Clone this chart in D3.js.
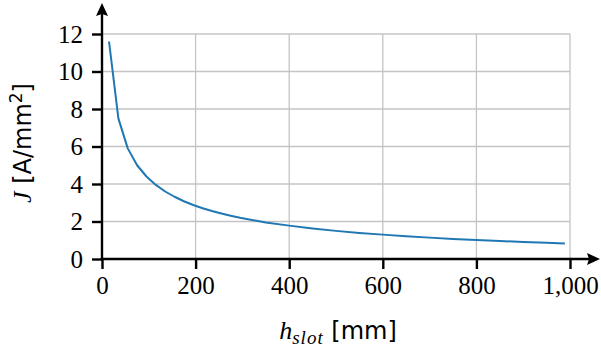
<!DOCTYPE html>
<html>
<head>
<meta charset="utf-8">
<script src="https://cdn.jsdelivr.net/npm/d3@7"></script>
<style>
  html, body { margin: 0; padding: 0; background: #fff; }
  svg { display: block; }
  .serif { font-family: "Liberation Serif", "Times New Roman", serif; }
  .sans { font-family: "DejaVu Sans", sans-serif; }
  .tick text { font-family: "Liberation Serif", "Times New Roman", serif; font-size: 25px; fill: #000; }
</style>
</head>
<body>
<svg id="chart" width="601" height="354"></svg>
<script>
// Slot height (mm) and resulting current density (A/mm²)
const hSlot = [15, 35, 55, 75, 95, 115, 135, 155, 175, 195, 215, 235, 255, 275, 295, 350, 400, 450, 500, 550, 600, 650, 700, 750, 800, 850, 900, 950, 989];
const currentDensity = [11.6, 7.5, 5.9, 5.0, 4.4, 3.95, 3.6, 3.32, 3.08, 2.88, 2.71, 2.56, 2.43, 2.31, 2.2, 1.95, 1.78, 1.63, 1.5, 1.39, 1.3, 1.21, 1.14, 1.07, 1.01, 0.96, 0.91, 0.87, 0.83];
const xTicks = [0, 200, 400, 600, 800, 1000];
const yTicks = [0, 2, 4, 6, 8, 10, 12];

const svg = d3.select("#chart");
const x = d3.scaleLinear().domain([0, 1000]).range([102, 570]);
const y = d3.scaleLinear().domain([0, 12]).range([259, 34]);

const gridColor = "#c4c4c4";

// grid
svg.append("g").selectAll("line").data(xTicks.filter(d => d > 0)).join("line")
  .attr("x1", d => x(d)).attr("x2", d => x(d))
  .attr("y1", y(12)).attr("y2", y(0))
  .attr("stroke", gridColor).attr("stroke-width", 1.3);
svg.append("g").selectAll("line").data(yTicks.filter(d => d > 0)).join("line")
  .attr("x1", x(0)).attr("x2", x(1000))
  .attr("y1", d => y(d)).attr("y2", d => y(d))
  .attr("stroke", gridColor).attr("stroke-width", 1.3);

// curve
const pts = hSlot.map((h, i) => [h, currentDensity[i]]);
svg.append("path").datum(pts)
  .attr("fill", "none").attr("stroke", "#1f77b4").attr("stroke-width", 2)
  .attr("stroke-linejoin", "round")
  .attr("d", d3.line().x(d => x(d[0])).y(d => y(d[1])));

// axes
const xAxis = svg.append("g").attr("transform", `translate(0,${y(0)})`)
  .call(d3.axisBottom(x).tickValues(xTicks).tickFormat(d3.format(",")).tickSizeInner(10).tickSizeOuter(0).tickPadding(7));
const yAxis = svg.append("g").attr("transform", `translate(${x(0)},0)`)
  .call(d3.axisLeft(y).tickValues(yTicks).tickSizeInner(10).tickSizeOuter(0).tickPadding(9));
[xAxis, yAxis].forEach(g => {
  g.select(".domain").remove();
  g.selectAll(".tick line").attr("stroke", "#000").attr("stroke-width", 2.4);
});

// axis lines with arrow heads
svg.append("line").attr("x1", x(0) - 1.2).attr("x2", 590).attr("y1", y(0)).attr("y2", y(0))
  .attr("stroke", "#000").attr("stroke-width", 2.4);
svg.append("path").attr("d", `M600,${y(0)} L587,${y(0) - 6} L589,${y(0)} L587,${y(0) + 6} Z`).attr("fill", "#000");
svg.append("line").attr("x1", x(0)).attr("x2", x(0)).attr("y1", y(0) + 1.2).attr("y2", 13)
  .attr("stroke", "#000").attr("stroke-width", 2.4);
svg.append("path").attr("d", `M${x(0)},3 L${x(0) - 6},16 L${x(0)},14 L${x(0) + 6},16 Z`).attr("fill", "#000");

// x label
const xl = svg.append("text").attr("x", 338).attr("y", 339).attr("text-anchor", "middle")
  .attr("font-size", 26).attr("fill", "#000");
xl.append("tspan").attr("class", "serif").attr("font-style", "italic").text("h");
xl.append("tspan").attr("class", "serif").attr("font-style", "italic")
  .attr("font-size", 19).attr("dy", 5).attr("letter-spacing", 1).text("slot");
xl.append("tspan").attr("class", "sans").attr("font-size", 24).attr("dy", -5).text(" [mm]");

// y label
const yl = svg.append("text").attr("transform", "translate(31,143) rotate(-90)").attr("text-anchor", "middle")
  .attr("font-size", 26).attr("fill", "#000");
yl.append("tspan").attr("class", "serif").attr("font-style", "italic").text("J");
yl.append("tspan").attr("class", "sans").attr("font-size", 24).text(" [A/mm");
yl.append("tspan").attr("class", "sans").attr("font-size", 17).attr("dy", -9).text("2");
yl.append("tspan").attr("class", "sans").attr("font-size", 24).attr("dy", 9).text("]");
</script>
</body>
</html>
